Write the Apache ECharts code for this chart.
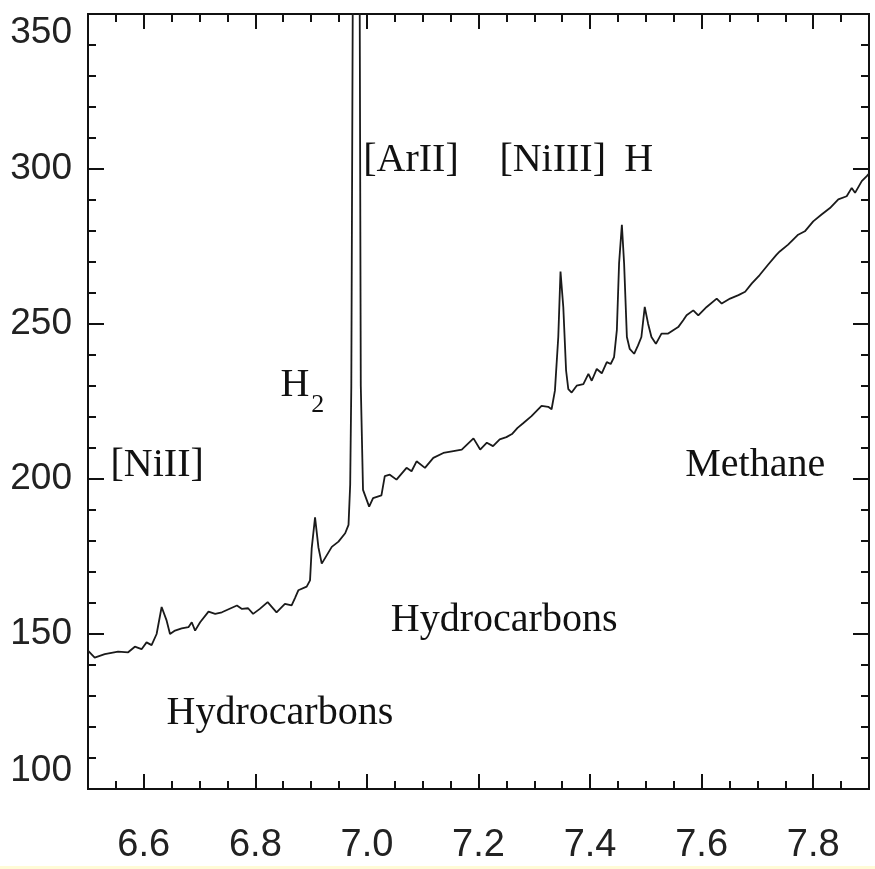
<!DOCTYPE html>
<html>
<head>
<meta charset="utf-8">
<script src="https://cdn.jsdelivr.net/npm/echarts@6/dist/echarts.min.js"></script>
<style>html,body{margin:0;padding:0;background:#fff;}#c{width:875px;height:869px;}</style>
</head>
<body>
<div id="c"></div>
<script>
const wavelength = [6.500,6.512,6.530,6.554,6.572,6.584,6.596,6.605,6.614,6.623,6.632,6.641,6.647,6.656,6.668,6.680,6.686,6.692,6.701,6.716,6.728,6.740,6.751,6.767,6.776,6.787,6.796,6.808,6.822,6.838,6.853,6.865,6.871,6.877,6.892,6.898,6.901,6.907,6.913,6.919,6.937,6.949,6.961,6.967,6.970,6.972,6.976,6.986,6.989,6.993,7.004,7.011,7.026,7.032,7.041,7.053,7.071,7.080,7.089,7.104,7.119,7.137,7.155,7.170,7.191,7.203,7.215,7.226,7.238,7.250,7.260,7.270,7.280,7.295,7.313,7.325,7.331,7.337,7.343,7.347,7.352,7.357,7.361,7.367,7.376,7.388,7.397,7.403,7.412,7.421,7.430,7.437,7.443,7.448,7.452,7.457,7.461,7.466,7.471,7.479,7.486,7.492,7.498,7.504,7.510,7.518,7.528,7.540,7.549,7.558,7.567,7.573,7.585,7.594,7.609,7.627,7.636,7.651,7.666,7.678,7.690,7.704,7.719,7.734,7.740,7.755,7.773,7.785,7.800,7.815,7.830,7.845,7.860,7.869,7.875,7.887,7.896,7.900];
const flux = [144.6,142.4,143.5,144.3,144.1,145.9,145.1,147.3,146.4,150.0,158.7,154.3,150.0,151.1,151.8,152.2,153.8,151.1,153.8,157.2,156.5,157.0,157.9,159.2,158.1,158.3,156.5,158.1,160.3,157.0,159.7,159.2,161.6,164.1,165.3,167.3,177.6,187.6,178.0,172.7,178.1,179.8,182.5,185.2,198.2,230.0,420.0,420.0,230.0,196.5,191.1,193.8,194.7,200.9,201.4,199.8,203.6,202.5,205.7,203.6,206.8,208.4,209.0,209.5,213.1,209.5,211.7,210.6,212.8,213.5,214.5,216.5,218.0,220.3,223.6,223.3,222.5,228.5,245.8,266.9,255.5,235.0,229.0,227.9,230.1,230.6,233.9,231.7,235.5,234.1,237.7,237.1,239.3,248.0,269.6,282.0,269.6,245.8,242.0,240.4,243.1,245.8,255.5,250.1,245.8,243.6,246.9,246.9,248.0,249.0,251.2,252.8,254.4,252.8,255.5,258.2,256.6,258.2,259.3,260.4,263.1,265.8,269.1,272.3,273.4,275.6,278.8,279.9,283.1,285.3,287.4,290.2,291.2,293.9,292.3,296.1,297.7,298.5];
const xTickLabels = [6.6,6.8,7.0,7.2,7.4,7.6,7.8];
const annotationText = ['[NiII]','H','2','[ArII]','[NiIII]','H','Methane','Hydrocarbons','Hydrocarbons'];
const annotationX = [6.624,6.871,6.912,7.079,7.333,7.487,7.696,7.246,6.844];
const annotationY = [204.5,230.3,223.9,302.9,302.9,302.9,204.5,154.5,124.5];
const annotationSize = [40,40,26,40,40,40,40,40,40];

const X_MIN = 6.5, X_MAX = 7.9, Y_MIN = 100, Y_MAX = 350;
const black = '#111';
const sansNarrow = '"Liberation Sans Narrow", "Liberation Sans", sans-serif';
const serif = '"Liberation Serif", "DejaVu Serif", serif';

const chart = echarts.init(document.getElementById('c'), null, {renderer: 'canvas'});

function xAxisDef(position, major, labels) {
  const ax = {
    type: 'value', min: X_MIN, max: X_MAX, position: position,
    axisLine: {show: true, onZero: false, lineStyle: {color: black, width: 2}},
    splitLine: {show: false},
    axisTick: {show: true, inside: true, length: major ? 15 : 8, lineStyle: {color: black, width: 2}},
    axisLabel: {show: false}
  };
  if (major) {
    ax.axisTick.customValues = xTickLabels;
    if (labels) {
      ax.axisLabel = {show: true, customValues: xTickLabels, margin: 38, fontFamily: sansNarrow, fontSize: 38, color: '#222',
        formatter: v => v.toFixed(1)};
    }
  } else {
    ax.interval = 0.05;
  }
  return ax;
}
function yAxisDef(position, labels) {
  return {
    type: 'value', min: Y_MIN, max: Y_MAX, interval: 50, position: position,
    axisLine: {show: true, onZero: false, lineStyle: {color: black, width: 2}},
    splitLine: {show: false},
    axisTick: {show: true, inside: true, length: 16, lineStyle: {color: black, width: 2}},
    minorTick: {show: true, splitNumber: 5, length: 8, lineStyle: {color: black, width: 2}},
    axisLabel: labels ? {show: true, margin: 16, fontFamily: sansNarrow, fontSize: 37, color: '#222',
      verticalAlignMinLabel: 'bottom', verticalAlignMaxLabel: 'top'} : {show: false}
  };
}

const markData = annotationText.map((t, i) => ({
  coord: [annotationX[i], annotationY[i]],
  symbolSize: 0,
  label: {show: true, position: 'inside', formatter: t, fontFamily: serif, fontSize: annotationSize[i], color: '#111'}
}));

chart.setOption({
  animation: false,
  backgroundColor: '#fff',
  grid: {left: 88, right: 6, top: 14, bottom: 80, containLabel: false},
  xAxis: [xAxisDef('bottom', true, true), xAxisDef('bottom', false, false), xAxisDef('top', true, false), xAxisDef('top', false, false)],
  yAxis: [yAxisDef('left', true), yAxisDef('right', false)],
  graphic: [{type: 'rect', left: 0, bottom: 0, shape: {width: 875, height: 3}, style: {fill: '#fffbd6'}, silent: true}],
  series: [{
    type: 'line', xAxisIndex: 0, yAxisIndex: 0,
    data: wavelength.map((w, i) => [w, flux[i]]),
    showSymbol: false, symbol: 'none', clip: true,
    lineStyle: {color: '#1a1a1a', width: 1.8},
    markPoint: {symbol: 'circle', symbolSize: 0, data: markData, silent: true}
  }]
});
</script>
</body>
</html>
